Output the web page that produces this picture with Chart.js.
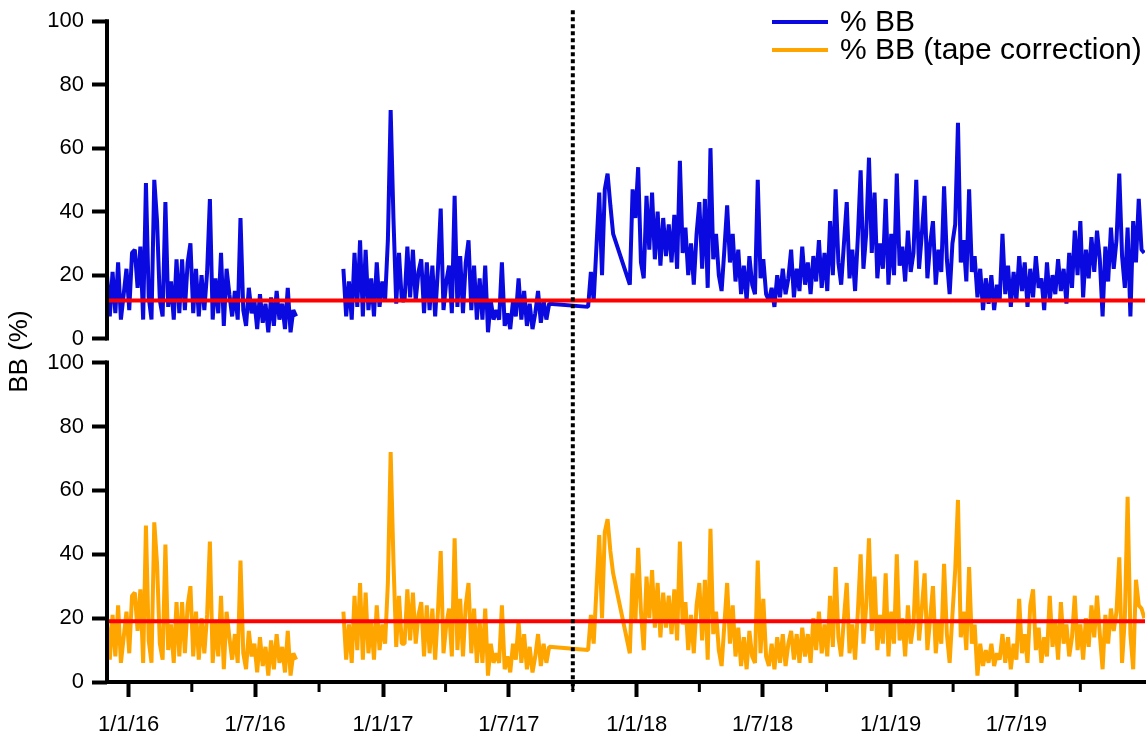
<!DOCTYPE html>
<html>
<head>
<meta charset="utf-8">
<script src="https://cdn.jsdelivr.net/npm/chart.js@4.4.1/dist/chart.umd.min.js"></script>
<style>
  html, body { margin: 0; padding: 0; background: #fff; }
</style>
</head>
<body>
<canvas id="myChart" width="1148" height="736"></canvas>
<script>
// x values are days since 1 Jan 2016, one sample every 4 days
const xMin = -31, xMax = 1462;
const step = 4;
const majorDays = [0, 182, 366, 547, 731, 912, 1096, 1277];
const majorLabels = ['1/1/16', '1/7/16', '1/1/17', '1/7/17', '1/1/18', '1/7/18', '1/1/19', '1/7/19'];
const minorDays = [91, 274, 456, 639, 821, 1004, 1186, 1369];
const changeDay = 639;          // dotted line, 1 Oct 2017
const yTicks = [0, 20, 40, 60, 80, 100];
const refBB = 12, refTape = 19; // red reference lines

// first day of each run of samples (gap Sep-Oct 2016 after the first)
const segStart = [-31, 309, 661];

// % BB
const bbA = [
  20, 7, 21, 8, 24, 6, 14, 22, 9, 27,
  28, 16, 29, 6, 49, 13, 6, 50, 37, 12,
  7, 43, 10, 18, 6, 25, 8, 25, 9, 24,
  30, 8, 22, 7, 20, 9, 21, 44, 6, 19,
  8, 27, 4, 22, 14, 7, 15, 6, 38, 9,
  4, 16, 8, 12, 3, 14, 5, 11, 2, 13,
  4, 15, 6, 11, 3, 16, 2, 9, 7
];
const bbB = [
  22, 7, 18, 6, 27, 10, 31, 7, 28, 9,
  19, 7, 24, 10, 18, 12, 31, 72, 38, 11,
  27, 12, 12, 29, 13, 28, 12, 21, 25, 8,
  24, 9, 23, 7, 22, 41, 9, 18, 23, 8,
  45, 10, 26, 8, 24, 31, 9, 23, 6, 19,
  6, 23, 2, 12, 6, 9, 6, 24, 4, 8,
  3, 12, 7, 19, 6, 15, 4, 11, 3, 8,
  15, 5, 12, 6, 11
];
const bbC = [
  10, 21, 12, 29, 46, 20, 47, 52, 42, 33,
  null, null, null, null, null, 17, 47, 38, 54, 24,
  19, 45, 28, 46, 25, 40, 23, 38, 26, 36,
  24, 39, 22, 56, 27, 35, 20, 30, 17, 33,
  43, 22, 44, 16, 60, 25, 33, 20, 15, 28,
  42, 24, 33, 18, 28, 14, 23, 12, 26, 17,
  14, 50, 19, 25, 14, 12, 16, 10, 20, 13,
  22, 14, 19, 28, 13, 22, 15, 29, 17, 24,
  14, 26, 18, 31, 16, 27, 15, 37, 20, 47,
  24, 17, 30, 43, 19, 28, 15, 32, 53, 22,
  33, 57, 27, 46, 19, 30, 22, 44, 17, 33,
  20, 52, 23, 29, 18, 34, 21, 27, 50, 22,
  33, 45, 19, 30, 37, 17, 28, 21, 48, 25,
  14, 30, 36, 68, 24, 31, 18, 47, 21, 26,
  13, 22, 9, 19, 11, 20, 9, 17, 12, 33,
  14, 23, 10, 21, 12, 26, 15, 24, 10, 22,
  13, 26, 16, 19, 9, 24, 12, 20, 14, 25,
  15, 22, 11, 27, 16, 34, 20, 37, 13, 28,
  19, 32, 21, 34, 25, 7, 29, 18, 35, 22,
  31, 52, 26, 16, 35, 7, 37, 24, 44, 28,
  27
];

// % BB (tape correction): same as % BB before the tape change
const tapeA = bbA.slice();
const tapeB = bbB.slice();
const tapeC = [
  10, 21, 12, 29, 46, 20, 47, 51, 41, 34,
  null, null, null, null, null, 9, 34, 19, 42, 22,
  10, 33, 20, 35, 17, 31, 14, 28, 17, 27,
  15, 29, 13, 44, 18, 25, 10, 21, 9, 24,
  31, 13, 32, 7, 48, 15, 22, 10, 5, 18,
  31, 12, 24, 8, 17, 5, 14, 4, 16, 8,
  6, 38, 9, 26, 8, 5, 12, 4, 14, 6,
  15, 5, 12, 16, 7, 15, 6, 17, 8, 15,
  6, 20, 10, 22, 9, 18, 8, 27, 11, 36,
  14, 8, 20, 31, 9, 18, 7, 22, 40, 12,
  24, 45, 16, 33, 10, 21, 12, 34, 8, 22,
  12, 40, 13, 20, 8, 24, 12, 18, 38, 13,
  23, 34, 10, 20, 30, 9, 19, 12, 37, 15,
  6, 21, 35, 57, 14, 22, 10, 36, 12, 18,
  2, 12, 5, 10, 6, 12, 5, 9, 7, 15,
  6, 14, 4, 12, 7, 26, 9, 15, 6, 24,
  29, 10, 17, 6, 14, 8, 27, 11, 19, 7,
  25, 12, 18, 8, 14, 27, 10, 18, 7, 20,
  11, 24, 14, 27, 15, 4, 21, 12, 23, 16,
  22, 39, 6, 20, 58, 15, 4, 32, 24, 23,
  20
];

const blue = '#0a0ae0';
const orange = '#ffa500';
const red = '#ff0000';

const toPoints = (segs) => {
  const pts = [];
  segs.forEach((vals, s) => {
    if (s === 1) pts.push({x: segStart[1] - 30, y: null}); // break the line over the data gap
    vals.forEach((v, i) => {
      if (v !== null) pts.push({x: segStart[s] + step * i, y: v});
    });
  });
  return pts;
};

const flat = (v) => [{x: xMin, y: v}, {x: xMax, y: v}];

Chart.defaults.font.family = '"Liberation Sans", Arial, sans-serif';
Chart.defaults.color = '#000';

const decor = {
  id: 'decor',
  afterDatasetsDraw(chart) {
    const {ctx, chartArea: a, scales: {x, yTop, yBot}} = chart;
    ctx.save();
    ctx.strokeStyle = '#000';

    // dotted line at the tape change
    const dx = x.getPixelForValue(changeDay);
    ctx.lineWidth = 4;
    ctx.setLineDash([4, 3]);
    ctx.beginPath();
    ctx.moveTo(dx, a.top - 11);
    ctx.lineTo(dx, a.bottom + 8);
    ctx.stroke();
    ctx.setLineDash([]);

    // left axis line of each panel
    ctx.lineWidth = 4;
    [yTop, yBot].forEach(s => {
      ctx.beginPath();
      ctx.moveTo(a.left, s.getPixelForValue(100) - 2);
      ctx.lineTo(a.left, s.getPixelForValue(0) + 2);
      ctx.stroke();
    });

    // minor x ticks
    ctx.lineWidth = 3;
    minorDays.forEach(d => {
      const px = x.getPixelForValue(d);
      ctx.beginPath();
      ctx.moveTo(px, a.bottom);
      ctx.lineTo(px, a.bottom + 10);
      ctx.stroke();
    });

    // y title shared by both panels
    ctx.fillStyle = '#000';
    ctx.font = '26px "Liberation Sans", Arial, sans-serif';
    ctx.textAlign = 'center';
    ctx.textBaseline = 'middle';
    ctx.translate(20, (a.top + a.bottom) / 2);
    ctx.rotate(-Math.PI / 2);
    ctx.fillText('BB (%)', 0, 0);
    ctx.restore();

    // legend inside the top right corner
    ctx.save();
    ctx.font = '30px "Liberation Sans", Arial, sans-serif';
    ctx.textAlign = 'left';
    ctx.textBaseline = 'middle';
    ctx.fillStyle = '#000';
    const lx = a.right - 373;
    chart.data.datasets.filter(d => d.inLegend).forEach((d, i) => {
      const ly = 22 + i * 28;
      ctx.strokeStyle = d.borderColor;
      ctx.lineWidth = 4;
      ctx.beginPath();
      ctx.moveTo(lx, ly);
      ctx.lineTo(lx + 56, ly);
      ctx.stroke();
      ctx.fillText(d.label, lx + 68, ly + 1);
    });
    ctx.restore();
  }
};

const yAxis = (extra) => Object.assign({
  type: 'linear',
  position: 'left',
  stack: 'bb',
  max: 100,
  afterBuildTicks: s => { s.ticks = yTicks.map(v => ({value: v})); },
  afterFit: s => { s.width = 107; },
  border: {display: false},
  grid: {drawOnChartArea: false, drawTicks: true, tickLength: 15, tickWidth: 4, tickColor: '#000'},
  ticks: {color: '#000', font: {size: 22}, padding: 8}
}, extra);

new Chart(document.getElementById('myChart'), {
  type: 'line',
  data: {
    datasets: [
      {label: 'ref BB', data: flat(refBB), yAxisID: 'yTop', borderColor: red, borderWidth: 4, order: 0},
      {label: 'ref tape', data: flat(refTape), yAxisID: 'yBot', borderColor: red, borderWidth: 4, order: 0},
      {label: '% BB', inLegend: true, data: toPoints([bbA, bbB, bbC]), yAxisID: 'yTop',
       borderColor: blue, borderWidth: 4, borderJoinStyle: 'bevel', order: 1},
      {label: '% BB (tape correction)', inLegend: true, data: toPoints([tapeA, tapeB, tapeC]), yAxisID: 'yBot',
       borderColor: orange, borderWidth: 4, borderJoinStyle: 'bevel', order: 1}
    ]
  },
  options: {
    responsive: false,
    animation: false,
    spanGaps: false,
    elements: {point: {radius: 0}, line: {tension: 0}},
    layout: {padding: {top: 20, right: 3, bottom: 0, left: 0}},
    plugins: {legend: {display: false}, tooltip: {enabled: false}},
    scales: {
      x: {
        type: 'linear',
        min: xMin,
        max: xMax,
        afterBuildTicks: s => { s.ticks = majorDays.map(v => ({value: v})); },
        afterFit: s => { s.height = 54; },
        border: {display: true, color: '#000', width: 4},
        grid: {drawOnChartArea: false, tickLength: 15, tickWidth: 4, tickColor: '#000'},
        ticks: {
          color: '#000',
          font: {size: 22},
          padding: 15,
          maxRotation: 0,
          autoSkip: false,
          callback: (v, i) => majorLabels[i]
        }
      },
      yBot: yAxis({min: 0, stackWeight: 320}),
      yTop: yAxis({min: -7.55, stackWeight: 342})
    }
  },
  plugins: [decor]
});
</script>
</body>
</html>
